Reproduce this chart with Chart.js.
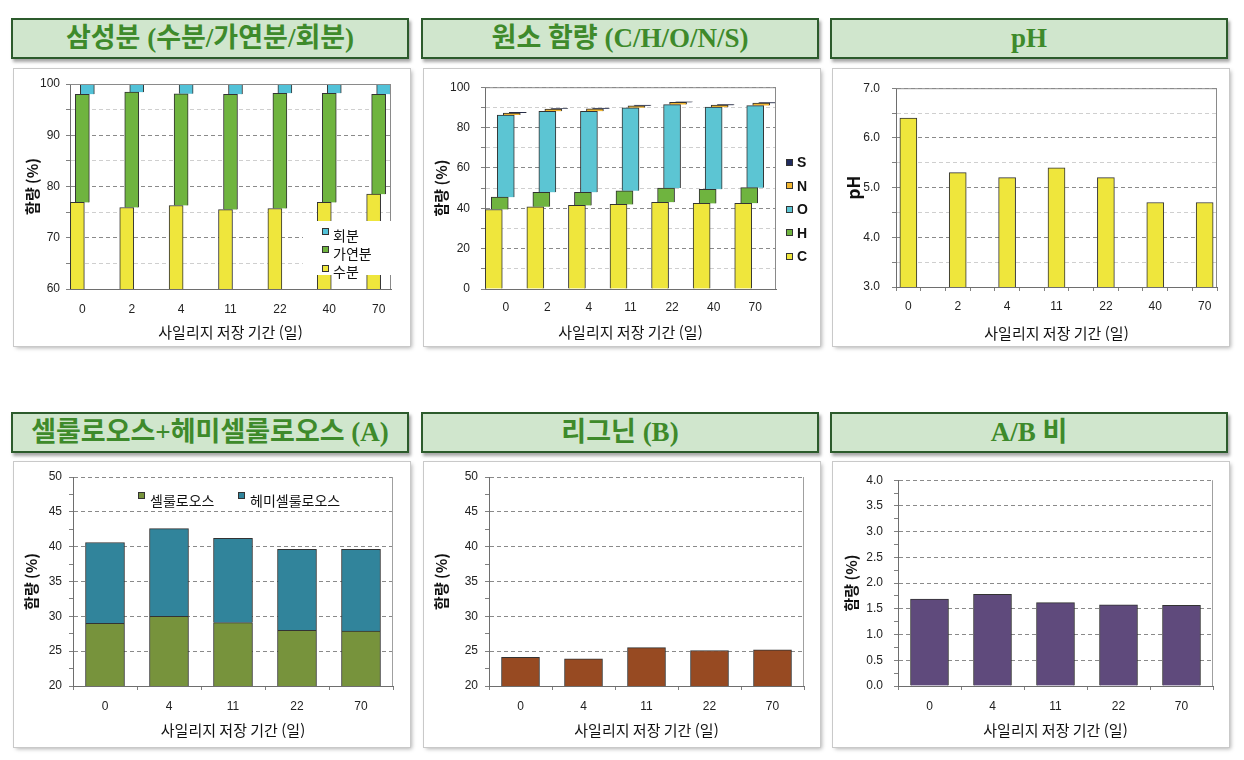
<!DOCTYPE html>
<html lang="ko">
<head>
<meta charset="utf-8">
<title>사일리지 저장 기간별 성분 변화</title>
<script src="https://cdn.jsdelivr.net/npm/chart.js@4.4.1/dist/chart.umd.min.js"></script>
<style>
  html, body { margin: 0; padding: 0; background: #fff; }
  body { position: relative; width: 1244px; height: 760px; overflow: hidden;
         font-family: "Liberation Sans", "Noto Sans CJK KR", sans-serif; }
  .head { position: absolute; box-sizing: border-box; width: 398px; height: 41px;
          background: #d0e6cd; border: 2px solid #2c5b2c;
          box-shadow: 2px 3px 3px rgba(0,0,0,.35);
          color: #3e8a2b; text-align: center;
          font: bold 27px "Liberation Serif", "Noto Sans CJK KR", serif;
          line-height: 36px; }
  .row1 { top: 18px; }
  .row2 { top: 412px; }
  .panel { position: absolute; width: 396px; background: #fff;
           box-shadow: 0 0 0 1px #c9c9c9, 2px 2px 4px rgba(0,0,0,.3); }
  .r1 { top: 69px; height: 277px; }
  .r2 { top: 462px; height: 285px; }
  .lg { position: absolute; color: #111; white-space: nowrap; }
  .lg span { position: absolute; }
  .lg .sw { box-sizing: border-box; width: 7px; height: 7px; border: 1px solid #333; }
  .lg .tx { line-height: 20px; }
</style>
</head>
<body>
<div class="head row1" style="left:11px">삼성분 (수분/가연분/회분)</div>
<div class="head row1" style="left:421px">원소 함량 (C/H/O/N/S)</div>
<div class="head row1" style="left:830px">pH</div>
<div class="head row2" style="left:11px">셀룰로오스+헤미셀룰로오스 (A)</div>
<div class="head row2" style="left:421px">리그닌 (B)</div>
<div class="head row2" style="left:830px">A/B 비</div>

<div class="panel r1" id="p1" style="left:14px"><canvas id="c1"></canvas></div>
<div class="panel r1" id="p2" style="left:424px"><canvas id="c2"></canvas></div>
<div class="panel r1" id="p3" style="left:833px"><canvas id="c3"></canvas></div>
<div class="panel r2" id="p4" style="left:14px"><canvas id="c4"></canvas></div>
<div class="panel r2" id="p5" style="left:424px"><canvas id="c5"></canvas></div>
<div class="panel r2" id="p6" style="left:833px"><canvas id="c6"></canvas></div>

<script>
// 저장 기간 (일)
const days7 = ['0', '2', '4', '11', '22', '40', '70'];
const days5 = ['0', '4', '11', '22', '70'];

// 삼성분 (%)
const moisture    = [76.9, 75.9, 76.3, 75.5, 75.7, 76.9, 78.5];
const combustible = [21.1, 22.5, 21.8, 22.5, 22.5, 21.3, 19.5];
const ash         = [2.0, 1.6, 1.9, 2.0, 1.8, 1.8, 2.0];

// 원소 함량 (%)
const carbon   = [39.4, 40.7, 41.4, 41.9, 43.0, 42.4, 42.5];
const hydrogen = [6.1, 7.2, 6.5, 6.8, 7.0, 7.0, 7.7];
const oxygen   = [40.7, 40.2, 40.2, 41.1, 41.4, 40.7, 40.7];
const nitrogen = [1.0, 1.1, 1.2, 1.0, 1.1, 1.0, 1.2];
const sulfur   = [0.3, 0.2, 0.3, 0.3, 0.2, 0.3, 0.3];

const ph = [6.4, 5.3, 5.2, 5.4, 5.2, 4.7, 4.7];

const cellulose     = [29.0, 30.0, 29.1, 28.0, 27.9];
const hemicellulose = [11.6, 12.6, 12.1, 11.6, 11.7];
const lignin        = [24.1, 23.9, 25.5, 25.1, 25.2];
const abRatio       = [1.69, 1.78, 1.62, 1.58, 1.57];

const xTitle = '사일리지 저장 기간 (일)';
const yTitle = '함량 (%)';

const FONT = '"Liberation Sans", "Noto Sans CJK KR", sans-serif';
const KFONT = '"Noto Sans CJK KR", "Liberation Sans", sans-serif';
Chart.defaults.font.family = FONT;
Chart.defaults.color = '#222';

// 플롯 테두리 (위/오른쪽)
const framePlugin = {
  id: 'frame',
  defaults: { sides: [], color: '#8a8a8a' },
  afterDatasetsDraw(chart, args, opts) {
    if (!opts.sides || !opts.sides.length) return;
    const { ctx, chartArea: a } = chart;
    ctx.save();
    ctx.strokeStyle = opts.color;
    ctx.lineWidth = 1;
    ctx.beginPath();
    if (opts.sides.includes('top')) { ctx.moveTo(a.left, a.top + 0.5); ctx.lineTo(a.right, a.top + 0.5); }
    if (opts.sides.includes('right')) { ctx.moveTo(a.right - 0.5, a.top); ctx.lineTo(a.right - 0.5, a.bottom); }
    ctx.stroke();
    ctx.restore();
  }
};

// 계열별로 막대를 몇 픽셀씩 옆으로 밀어 계단 모양을 만든다
const shiftPlugin = {
  id: 'shift',
  afterDatasetsUpdate(chart) {
    chart.data.datasets.forEach((ds, i) => {
      if (!ds.shift) return;
      chart.getDatasetMeta(i).data.forEach(bar => { bar.x += ds.shift; });
    });
  }
};
Chart.register(framePlugin, shiftPlugin);

const near = (v, m) => Math.abs(v / m - Math.round(v / m)) < 1e-6;

function valueAxis(o) {
  const size = o.titleSize || 15;
  return {
    type: 'linear', min: o.min, max: o.max, stacked: !!o.stacked,
    afterBuildTicks: a => {
      const n = Math.round((o.max - o.min) / o.step);
      a.ticks = Array.from({ length: n + 1 }, (_, k) => ({ value: +(o.min + k * o.step).toFixed(6) }));
    },
    afterFit: a => { a.width = o.plot.l; },
    ticks: { autoSkip: false, padding: o.gap - 4, font: { size: 12 }, color: '#222',
             callback: v => near(v, o.major) ? v.toFixed(o.dec) : '' },
    grid: { tickLength: 4, tickColor: '#808080', lineWidth: 1,
            color: c => !c.tick ? '#808080'
              : near(c.tick.value, o.major) ? '#8a8a8a'
              : (o.minorGrid ? '#cfcfcf' : 'rgba(0,0,0,0)') },
    border: { color: '#6e6e6e', dash: [4, 3] },
    title: { display: true, text: o.title || yTitle, color: '#111',
             font: { size: size, weight: 'bold', family: KFONT },
             padding: { top: o.titleX - size * 0.6, bottom: 0 } }
  };
}

function xTitleOpts(o) {
  return { display: true, text: xTitle, color: '#111',
           font: { size: 15, family: KFONT },
           padding: { top: 0, bottom: o.titleGap - 9 } };
}

// 라벨 간격이 플롯 폭보다 넓게 잡힌 패널용 (양 끝 0.25칸)
function linearIndexAxis(labels, o) {
  const last = labels.length - 1;
  const tl = o.marks ? 4 : 0;
  return {
    type: 'linear', min: -0.25, max: last + 0.25, offset: false, stacked: true,
    afterBuildTicks: a => {
      a.ticks = Array.from({ length: 4 * last + 3 }, (_, k) => ({ value: -0.25 + k * 0.25 }));
    },
    afterFit: a => { a.height = o.H - o.plot.b; },
    ticks: { autoSkip: false, maxRotation: 0, padding: o.labelGap - tl - 7.2,
             font: { size: 12 }, color: '#222',
             callback: v => Number.isInteger(v) ? labels[v] : '' },
    grid: { offset: false, drawOnChartArea: false, drawTicks: !!o.marks, tickLength: 4,
            tickColor: c => c.tick && near(c.tick.value + 0.25, 0.5) ? '#808080' : 'rgba(0,0,0,0)' },
    border: { color: '#6e6e6e' },
    title: xTitleOpts(o)
  };
}

function categoryAxis(o) {
  const tl = o.marks ? 4 : 0;
  return {
    type: 'category', offset: true, stacked: true,
    afterFit: a => { a.height = o.H - o.plot.b; },
    ticks: { autoSkip: false, maxRotation: 0, padding: o.labelGap - tl - 7.2,
             font: { size: 12 }, color: '#222' },
    grid: { offset: true, drawOnChartArea: false, drawTicks: !!o.marks, tickLength: 4, tickColor: '#808080' },
    border: { color: '#6e6e6e' },
    title: xTitleOpts(o)
  };
}

function makeChart(id, o) {
  return new Chart(document.getElementById(id), {
    type: 'bar',
    data: { labels: o.labels, datasets: o.datasets },
    options: {
      responsive: true, maintainAspectRatio: false, animation: false,
      layout: { padding: { left: 0, top: o.plot.t, right: o.W - o.plot.r, bottom: 0 } },
      plugins: { legend: { display: false }, tooltip: { enabled: false }, frame: o.frame || {} },
      datasets: { bar: { borderWidth: 1, borderColor: '#333', barThickness: o.barThickness } },
      scales: { x: o.x, y: o.y }
    }
  });
}

const pts = arr => arr.map((v, i) => ({ x: i, y: v }));

function addLegend(panelId, chart, o) {
  const box = document.createElement('div');
  box.className = 'lg';
  Object.assign(box.style, { left: o.left + 'px', top: o.top + 'px', width: o.width + 'px',
    height: o.height + 'px', background: o.bg || 'transparent', font: o.font });
  let items = chart.data.datasets.map(ds => ({ text: ds.label, color: ds.backgroundColor }));
  if (o.reverse) items = items.reverse();
  items.forEach((it, i) => {
    const dx = o.dx ? o.dx[i] : 0;
    const cy = o.cy + (o.gap || 0) * i;
    const sw = document.createElement('span');
    sw.className = 'sw';
    sw.style.background = it.color;
    sw.style.left = (o.mx + dx) + 'px';
    sw.style.top = (cy - o.raise - 3.5) + 'px';
    const tx = document.createElement('span');
    tx.className = 'tx';
    tx.textContent = it.text;
    tx.style.left = (o.tx + dx) + 'px';
    tx.style.top = (cy - 10) + 'px';
    box.appendChild(sw);
    box.appendChild(tx);
  });
  document.getElementById(panelId).appendChild(box);
}

// 1. 삼성분
const P1 = { W: 396, H: 277, plot: { l: 56, r: 377, t: 15, b: 220 } };
const c1 = makeChart('c1', { ...P1, barThickness: 14,
  frame: { sides: ['top', 'right'], color: '#8a8a8a' },
  datasets: [
    { label: '수분', data: pts(moisture), backgroundColor: '#efe63c', shift: -5 },
    { label: '가연분', data: pts(combustible), backgroundColor: '#6fb43f', shift: 0 },
    { label: '회분', data: pts(ash), backgroundColor: '#52c2d8', shift: 5 }
  ],
  x: linearIndexAxis(days7, { ...P1, marks: false, labelGap: 21, titleGap: 14 }),
  y: valueAxis({ plot: P1.plot, min: 60, max: 100, step: 5, major: 10, dec: 0, gap: 10,
                 titleX: 18, minorGrid: true, stacked: true })
});
addLegend('p1', c1, { left: 289, top: 152, width: 88, height: 54, bg: '#fff',
  font: '14px ' + KFONT, reverse: true, mx: 19, tx: 30, cy: 13.5, gap: 18.3, raise: 3 });

// 2. 원소 함량
const P2 = { W: 396, H: 277, plot: { l: 61, r: 352, t: 15, b: 220 } };
const c2 = makeChart('c2', { ...P2, labels: days7, barThickness: 17,
  frame: { sides: ['top', 'right'], color: '#8a8a8a' },
  datasets: [
    { label: 'C', data: carbon, backgroundColor: '#efe63c', shift: -12 },
    { label: 'H', data: hydrogen, backgroundColor: '#6fb43f', shift: -6 },
    { label: 'O', data: oxygen, backgroundColor: '#5cc5d3', shift: 0 },
    { label: 'N', data: nitrogen, backgroundColor: '#f2b630', shift: 6 },
    { label: 'S', data: sulfur, backgroundColor: '#1f2b5e', shift: 12 }
  ],
  x: categoryAxis({ ...P2, marks: false, labelGap: 19, titleGap: 14 }),
  y: valueAxis({ plot: P2.plot, min: 0, max: 100, step: 10, major: 20, dec: 0, gap: 15,
                 titleX: 17, minorGrid: true, stacked: true })
});
addLegend('p2', c2, { left: 0, top: 0, width: 396, height: 1,
  font: 'bold 14px ' + FONT, reverse: true, mx: 362, tx: 373, cy: 93, gap: 23.5, raise: 0 });

// 3. pH
const P3 = { W: 396, H: 277, plot: { l: 63, r: 384, t: 14, b: 218 } };
makeChart('c3', { ...P3, barThickness: 17,
  frame: { sides: ['top', 'right'], color: '#8a8a8a' },
  datasets: [ { label: 'pH', data: pts(ph), backgroundColor: '#efe63c' } ],
  x: linearIndexAxis(days7, { ...P3, marks: true, labelGap: 20, titleGap: 13 }),
  y: valueAxis({ plot: P3.plot, min: 3, max: 7, step: 0.5, major: 1, dec: 1, gap: 16,
                 titleX: 21, title: 'pH', titleSize: 17, minorGrid: true })
});

// 4. 셀룰로오스 + 헤미셀룰로오스
const P4 = { W: 396, H: 285, plot: { l: 59, r: 379, t: 15, b: 224 } };
const c4 = makeChart('c4', { ...P4, labels: days5, barThickness: 39,
  frame: { sides: ['right'], color: '#a0a0a0' },
  datasets: [
    { label: '셀룰로오스', data: cellulose, backgroundColor: '#77933c' },
    { label: '헤미셀룰로오스', data: hemicellulose, backgroundColor: '#31849b' }
  ],
  x: categoryAxis({ ...P4, marks: true, labelGap: 21, titleGap: 17 }),
  y: valueAxis({ plot: P4.plot, min: 20, max: 50, step: 2.5, major: 5, dec: 0, gap: 11,
                 titleX: 17, minorGrid: false, stacked: true })
});
addLegend('p4', c4, { left: 0, top: 0, width: 396, height: 1,
  font: '14px ' + KFONT, mx: 124, tx: 136, dx: [0, 100], cy: 37.5, gap: 0, raise: 4 });

// 5. 리그닌
const P5 = { W: 396, H: 285, plot: { l: 65, r: 380, t: 15, b: 224 } };
makeChart('c5', { ...P5, labels: days5, barThickness: 38,
  frame: { sides: ['right'], color: '#a0a0a0' },
  datasets: [ { label: '리그닌', data: lignin, backgroundColor: '#974a22' } ],
  x: categoryAxis({ ...P5, marks: true, labelGap: 21, titleGap: 17 }),
  y: valueAxis({ plot: P5.plot, min: 20, max: 50, step: 2.5, major: 5, dec: 0, gap: 11,
                 titleX: 17, minorGrid: false })
});

// 6. A/B 비
const P6 = { W: 396, H: 285, plot: { l: 65, r: 380, t: 15, b: 224 } };
makeChart('c6', { ...P6, labels: days5, barThickness: 38,
  frame: { sides: ['right'], color: '#a0a0a0' },
  datasets: [ { label: 'A/B', data: abRatio, backgroundColor: '#5f4a7c' } ],
  x: categoryAxis({ ...P6, marks: true, labelGap: 21, titleGap: 17 }),
  y: valueAxis({ plot: P6.plot, min: 0, max: 4, step: 0.25, major: 0.5, dec: 1, gap: 15,
                 titleX: 18, minorGrid: false })
});
</script>
</body>
</html>
